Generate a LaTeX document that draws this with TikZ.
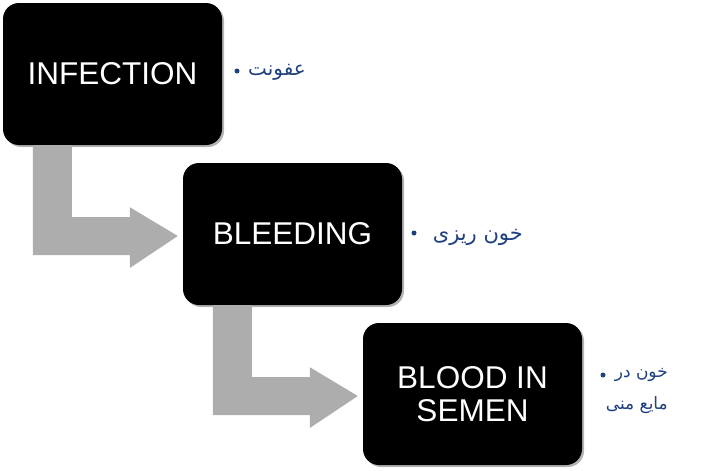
\documentclass[tikz,border=0pt]{standalone}
\usepackage{fontspec}
\setmainfont{Liberation Sans}
\newfontfamily\arabicfont[Script=Arabic]{DejaVu Sans}
\TeXXeTstate=1
\usetikzlibrary{shadows,calc}
\definecolor{txtblue}{HTML}{1F3F7F}
\definecolor{arrgray}{HTML}{ADADAD}
\begin{document}
\begin{tikzpicture}[x=1pt,y=-1pt,
  termbox/.style={fill=black, rounded corners=16pt, minimum width=219pt, minimum height=142pt,
    text=white, font=\fontsize{31.5}{33}\selectfont, align=center, inner sep=0pt,
    drop shadow={shadow xshift=2pt,shadow yshift=-2pt,fill=gray,opacity=0.6}},
  bent/.style={fill=arrgray},
  dot/.style={circle, fill=txtblue, minimum size=5pt, inner sep=0pt},
  lbl/.style={text=txtblue, font=\arabicfont\fontsize{20}{32}\selectfont, inner sep=0pt, align=right}]
\useasboundingbox (0,0) rectangle (723,471);
\node[termbox] (box1) at (112.5,74) {INFECTION};
\node[termbox] (box2) at (292.5,234) {BLEEDING};
\node[termbox] (box3) at (472.5,394) {BLOOD IN\\SEMEN};
\fill[bent] ($(box1.south west)+(30,0)$) -- ++(39,0) -- ++(0,72) -- ++(58,0) -- ++(0,-10)
  -- ($(box2.west)+(-5,2)$) -- ++(-48,32) -- ++(0,-13) -- ++(-97,0) -- cycle;
\fill[bent] ($(box2.south west)+(30,0)$) -- ++(39,0) -- ++(0,72) -- ++(58,0) -- ++(0,-10)
  -- ($(box3.west)+(-5,2)$) -- ++(-48,32) -- ++(0,-13) -- ++(-97,0) -- cycle;
\node[dot] (d1) at (237,71) {};
\node[lbl, anchor=east] (l1) at (306,72) {\beginR عفونت\endR};
\node[dot] (d2) at (414,233) {};
\node[lbl, anchor=east, font=\arabicfont\fontsize{21}{32}\selectfont] (l2) at (523,237) {\beginR خون ریزی\endR};
\node[dot] (d3) at (603,375) {};
\node[lbl, anchor=north east, font=\arabicfont\fontsize{17}{32}\selectfont] (l3) at (668,368) {\beginR خون در\endR\\\beginR مایع منی\endR};
\end{tikzpicture}
\end{document}
